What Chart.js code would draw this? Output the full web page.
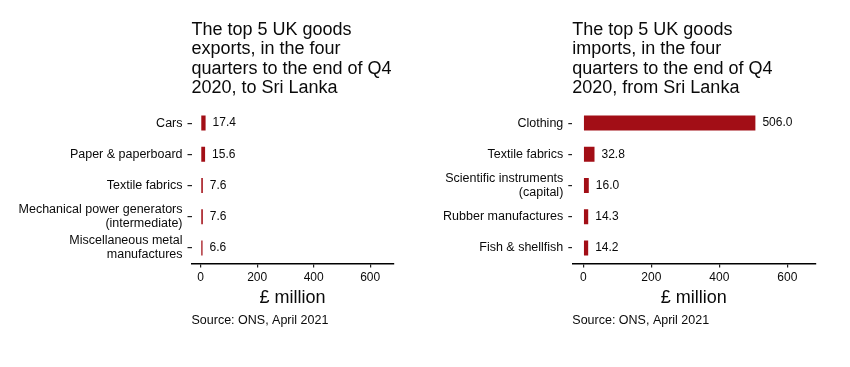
<!DOCTYPE html>
<html><head><meta charset="utf-8">
<script src="https://cdn.jsdelivr.net/npm/chart.js@4.4.1/dist/chart.umd.min.js"></script>
<style>
html,body{margin:0;padding:0;background:#fff;}
#wrap{position:relative;width:850px;height:367px;}
.box{position:absolute;top:0;width:425px;height:367px;}
</style></head><body>
<div id="wrap">
<div class="box" style="left:0"><canvas id="c1" width="425" height="367"></canvas></div>
<div class="box" style="left:425px"><canvas id="c2" width="425" height="367"></canvas></div>
</div>
<script>
const exportCategories = ["Cars", "Paper & paperboard", "Textile fabrics", ["Mechanical power generators", "(intermediate)"], ["Miscellaneous metal", "manufactures"]];
const exportValues = [17.4, 15.6, 7.6, 7.6, 6.6];
const importCategories = ["Clothing", "Textile fabrics", ["Scientific instruments", "(capital)"], "Rubber manufactures", "Fish & shellfish"];
const importValues = [506.0, 32.8, 16.0, 14.3, 14.2];
const xTickValues = [0, 200, 400, 600];
const exportTitle = ["The top 5 UK goods", "exports, in the four", "quarters to the end of Q4", "2020, to Sri Lanka"];
const importTitle = ["The top 5 UK goods", "imports, in the four", "quarters to the end of Q4", "2020, from Sri Lanka"];
const sourceText = "Source: ONS, April 2021";
const axisTitle = "£ million";

const FONT = '"Liberation Sans", Arial, sans-serif';
const BAR = '#a20e16';
const INK = '#0a0a0a';

function makeChart(id, cats, vals, title, areaLeft, areaRight) {
  const extras = {
    id: 'extras' + id,
    afterDraw(chart) {
      const ctx = chart.ctx;
      const ca = chart.chartArea;
      ctx.save();
      ctx.fillStyle = INK;
      ctx.textAlign = 'left';
      ctx.textBaseline = 'alphabetic';
      ctx.font = '18px ' + FONT;
      title.forEach((t, i) => ctx.fillText(t, ca.left, 35 + i * 19.3));
      ctx.font = '12.5px ' + FONT;
      ctx.fillText(sourceText, ca.left, 324);
      const meta = chart.getDatasetMeta(0);
      ctx.font = '12px ' + FONT;
      ctx.textBaseline = 'middle';
      meta.data.forEach((bar, i) => {
        ctx.fillText(vals[i].toFixed(1), bar.x + 7, bar.y);
      });
      ctx.restore();
    }
  };
  return new Chart(document.getElementById(id), {
    type: 'bar',
    data: {
      labels: cats,
      datasets: [{
        data: vals,
        backgroundColor: BAR,
        borderWidth: 0,
        categoryPercentage: 1,
        barPercentage: 0.48
      }]
    },
    options: {
      indexAxis: 'y',
      responsive: false,
      animation: false,
      layout: { padding: { top: 107.5, right: 425 - areaRight, bottom: 58.5, left: 0 } },
      plugins: { legend: { display: false }, tooltip: { enabled: false }, title: { display: false } },
      scales: {
        x: {
          type: 'linear',
          min: -32.5,
          max: 682.5,
          afterBuildTicks: s => { s.ticks = xTickValues.map(v => ({ value: v })); },
          afterFit: s => { s.height = 45; },
          grid: { display: true, drawOnChartArea: false, drawTicks: true, tickLength: 4, color: '#222', lineWidth: 1.2 },
          border: { display: true, color: '#000', width: 1.6 },
          ticks: { font: { family: FONT, size: 12 }, color: INK, padding: 3, maxRotation: 0, autoSkip: false },
          title: { display: true, text: axisTitle, font: { family: FONT, size: 18 }, color: INK, padding: 0 }
        },
        y: {
          type: 'category',
          offset: true,
          afterFit: s => { s.width = areaLeft; },
          grid: { display: true, offset: false, drawOnChartArea: false, drawTicks: true, tickLength: 4, color: '#222', lineWidth: 1.2 },
          border: { display: false },
          ticks: { font: { family: FONT, size: 12.5, lineHeight: 1.12 }, color: INK, padding: 5, autoSkip: false }
        }
      }
    },
    plugins: [extras]
  });
}

makeChart('c1', exportCategories, exportValues, exportTitle, 191.5, 393.5);
makeChart('c2', importCategories, importValues, importTitle, 147.3, 390.4);
</script>
</body></html>
